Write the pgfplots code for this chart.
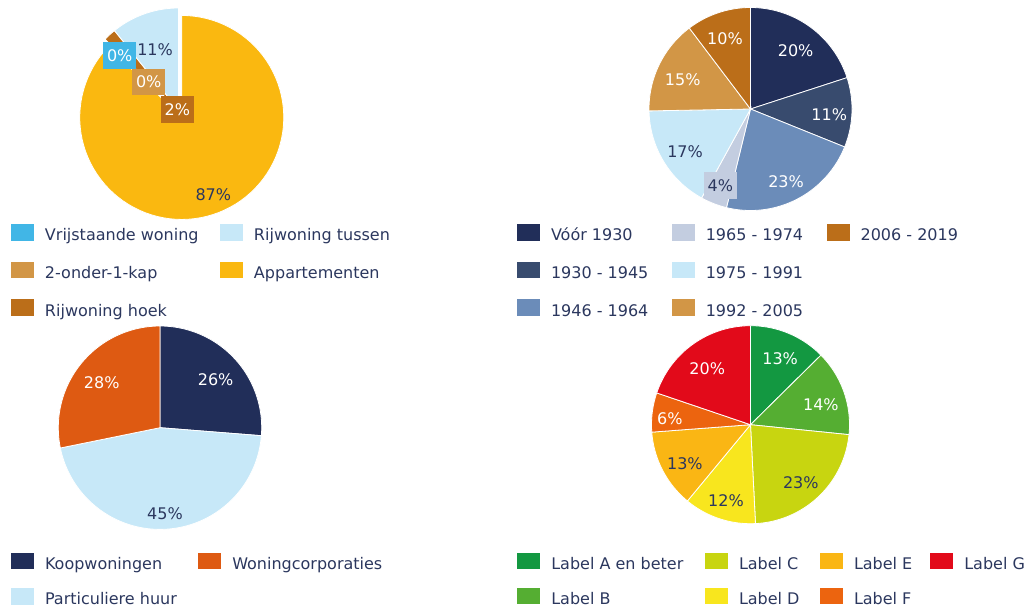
\documentclass[border=0pt]{standalone}
\usepackage{fontspec}
\setmainfont{DejaVu Sans}
\usepackage{pgfplots}
\pgfplotsset{compat=1.18}

\definecolor{navytext}{RGB}{43,55,94}
\definecolor{cVrij}{RGB}{65,182,230}
\definecolor{cLight}{RGB}{199,232,248}
\definecolor{cTan}{RGB}{210,150,70}
\definecolor{cApp}{RGB}{250,184,16}
\definecolor{cHoek}{RGB}{187,110,25}
\definecolor{cNavy}{RGB}{33,46,89}
\definecolor{cSlate}{RGB}{56,75,110}
\definecolor{cMid}{RGB}{107,140,185}
\definecolor{cPale}{RGB}{195,205,224}
\definecolor{cCorp}{RGB}{222,90,18}
\definecolor{cA}{RGB}{19,152,65}
\definecolor{cB}{RGB}{85,174,50}
\definecolor{cC}{RGB}{200,213,16}
\definecolor{cD}{RGB}{248,230,30}
\definecolor{cE}{RGB}{250,182,20}
\definecolor{cF}{RGB}{236,100,15}
\definecolor{cG}{RGB}{226,10,26}

\newcommand{\bigfont}{\fontsize{16bp}{19bp}\selectfont}

% sector: #1 cumulative start (%), #2 cumulative end (%), #3 colour, #4,#5 offset
\newcommand{\sector}[5]{%
  \addplot[forget plot, draw=white, line width=0.8pt, fill=#3,
    domain=90-3.6*(#2):90-3.6*(#1), samples=90, variable=\t]
    ({#4+cos(\t)},{#5+sin(\t)}) -- (axis cs:#4,#5) -- cycle;
}

\pgfplotsset{
  piebase/.style={
    hide axis, clip=false, anchor=center,
    xmin=-1, xmax=1, ymin=-1, ymax=1,
    legend image code/.code={%
      \path[draw=none, fill=none] (0bp,-4bp) rectangle (34bp,17bp);
      \fill[##1, draw=none] (0bp,0bp) rectangle (23bp,16.7bp);},
    legend style={draw=none, fill=none, inner sep=0pt, outer sep=0pt,
      anchor=north west, column sep=0pt, row sep=16.7bp,
      font=\bigfont, cells={anchor=base west},
      nodes={inner sep=0pt, text height=12bp, text depth=1bp, text=navytext}},
  },
}
\tikzset{
  lbl/.style={font=\bigfont, inner sep=0pt, anchor=center},
  boxlbl/.style={font=\bigfont, inner xsep=3.7bp, inner ysep=0pt,
    minimum height=26.7bp, anchor=center},
}

\begin{document}
\begin{tikzpicture}

% ---------- Top left: woningtype ----------
\begin{axis}[piebase, x=102bp, y=102bp, at={(178.5bp,-110bp)},
  legend columns=2, legend style={at={(-0.3211,-0.0574)}}]
  \sector{0}{87.2}{cApp}{0.032}{-0.073}
  \sector{87.2}{89.2}{cHoek}{0}{0}
  \sector{89.2}{100}{cLight}{0}{0}
  \node[lbl, text=navytext] at (axis cs:-0.23,0.595) {11\%};
  \node[boxlbl, fill=cVrij, text=white] at (axis cs:-0.576,0.532) {0\%};
  \node[boxlbl, fill=cTan, text=white] at (axis cs:-0.292,0.275) {0\%};
  \node[boxlbl, fill=cHoek, text=white] at (axis cs:-0.012,0.007) {2\%};
  \node[lbl, text=navytext] at (axis cs:0.341,-0.826) {87\%};
  \addlegendimage{fill=cVrij}\addlegendentry{\makebox[175bp][l]{Vrijstaande woning}}
  \addlegendimage{fill=cLight}\addlegendentry{\makebox[175bp][l]{Rijwoning tussen}}
  \addlegendimage{fill=cTan}\addlegendentry{\makebox[175bp][l]{2-onder-1-kap}}
  \addlegendimage{fill=cApp}\addlegendentry{\makebox[175bp][l]{Appartementen}}
  \addlegendimage{fill=cHoek}\addlegendentry{\makebox[175bp][l]{Rijwoning hoek}}
\end{axis}

% ---------- Top right: bouwjaar ----------
\begin{axis}[piebase, x=101.5bp, y=101.5bp, at={(750.5bp,-109bp)},
  legend columns=3, legend style={at={(-0.6502,-0.0650)}}]
  \sector{0}{20}{cNavy}{0}{0}
  \sector{20}{31.1}{cSlate}{0}{0}
  \sector{31.1}{53.8}{cMid}{0}{0}
  \sector{53.8}{58}{cPale}{0}{0}
  \sector{58}{74.7}{cLight}{0}{0}
  \sector{74.7}{89.7}{cTan}{0}{0}
  \sector{89.7}{100}{cHoek}{0}{0}
  \node[lbl, text=white] at (axis cs:0.445,0.574) {20\%};
  \node[lbl, text=white] at (axis cs:0.776,-0.059) {11\%};
  \node[lbl, text=white] at (axis cs:0.35,-0.716) {23\%};
  \node[boxlbl, fill=cPale, text=navytext] at (axis cs:-0.297,-0.756) {4\%};
  \node[lbl, text=navytext] at (axis cs:-0.645,-0.42) {17\%};
  \node[lbl, text=white] at (axis cs:-0.668,0.286) {15\%};
  \node[lbl, text=white] at (axis cs:-0.251,0.696) {10\%};
  \addlegendimage{fill=cNavy}\addlegendentry{\makebox[120.8bp][l]{Vóór 1930}}
  \addlegendimage{fill=cPale}\addlegendentry{\makebox[120.8bp][l]{1965 - 1974}}
  \addlegendimage{fill=cHoek}\addlegendentry{\makebox[120.8bp][l]{2006 - 2019}}
  \addlegendimage{fill=cSlate}\addlegendentry{\makebox[120.8bp][l]{1930 - 1945}}
  \addlegendimage{fill=cLight}\addlegendentry{\makebox[120.8bp][l]{1975 - 1991}}
  \addlegendimage{empty legend}\addlegendentry{}
  \addlegendimage{fill=cMid}\addlegendentry{\makebox[120.8bp][l]{1946 - 1964}}
  \addlegendimage{fill=cTan}\addlegendentry{\makebox[120.8bp][l]{1992 - 2005}}
\end{axis}

% ---------- Bottom left: eigendom ----------
\begin{axis}[piebase, x=101.7bp, y=101.7bp, at={(160bp,-427.7bp)},
  legend columns=2, legend style={at={(-0.2325,-0.1126)}, row sep=14.2bp}]
  \sector{0}{26.25}{cNavy}{0}{0}
  \sector{26.25}{71.8}{cLight}{0}{0}
  \sector{71.8}{100}{cCorp}{0}{0}
  \node[lbl, text=white] at (axis cs:0.547,0.469) {26\%};
  \node[lbl, text=navytext] at (axis cs:0.049,-0.842) {45\%};
  \node[lbl, text=white] at (axis cs:-0.573,0.442) {28\%};
  \addlegendimage{fill=cNavy}\addlegendentry{\makebox[153.3bp][l]{Koopwoningen}}
  \addlegendimage{fill=cCorp}\addlegendentry{\makebox[153.3bp][l]{Woningcorporaties}}
  \addlegendimage{fill=cLight}\addlegendentry{\makebox[153.3bp][l]{Particuliere huur}}
\end{axis}

% ---------- Bottom right: energielabel ----------
\begin{axis}[piebase, x=99bp, y=99bp, at={(750.5bp,-424.7bp)},
  legend columns=4, legend style={at={(-0.6778,-0.1444)}, row sep=14.2bp}]
  \sector{0}{12.6}{cA}{0}{0}
  \sector{12.6}{26.6}{cB}{0}{0}
  \sector{26.6}{49.2}{cC}{0}{0}
  \sector{49.2}{61}{cD}{0}{0}
  \sector{61}{73.8}{cE}{0}{0}
  \sector{73.8}{80.2}{cF}{0}{0}
  \sector{80.2}{100}{cG}{0}{0}
  \node[lbl, text=white] at (axis cs:0.299,0.672) {13\%};
  \node[lbl, text=white] at (axis cs:0.711,0.199) {14\%};
  \node[lbl, text=navytext] at (axis cs:0.508,-0.583) {23\%};
  \node[lbl, text=navytext] at (axis cs:-0.248,-0.772) {12\%};
  \node[lbl, text=navytext] at (axis cs:-0.663,-0.391) {13\%};
  \node[lbl, text=white] at (axis cs:-0.815,0.058) {6\%};
  \node[lbl, text=white] at (axis cs:-0.437,0.561) {20\%};
  \addlegendimage{fill=cA}\addlegendentry{\makebox[153.7bp][l]{Label A en beter}}
  \addlegendimage{fill=cC}\addlegendentry{\makebox[81bp][l]{Label C}}
  \addlegendimage{fill=cE}\addlegendentry{\makebox[76.3bp][l]{Label E}}
  \addlegendimage{fill=cG}\addlegendentry{Label G}
  \addlegendimage{fill=cB}\addlegendentry{\makebox[153.7bp][l]{Label B}}
  \addlegendimage{fill=cD}\addlegendentry{\makebox[81bp][l]{Label D}}
  \addlegendimage{fill=cF}\addlegendentry{\makebox[76.3bp][l]{Label F}}
\end{axis}

\pgfresetboundingbox
\path[use as bounding box] (0,0) rectangle (1027bp,-608bp);
\end{tikzpicture}
\end{document}
